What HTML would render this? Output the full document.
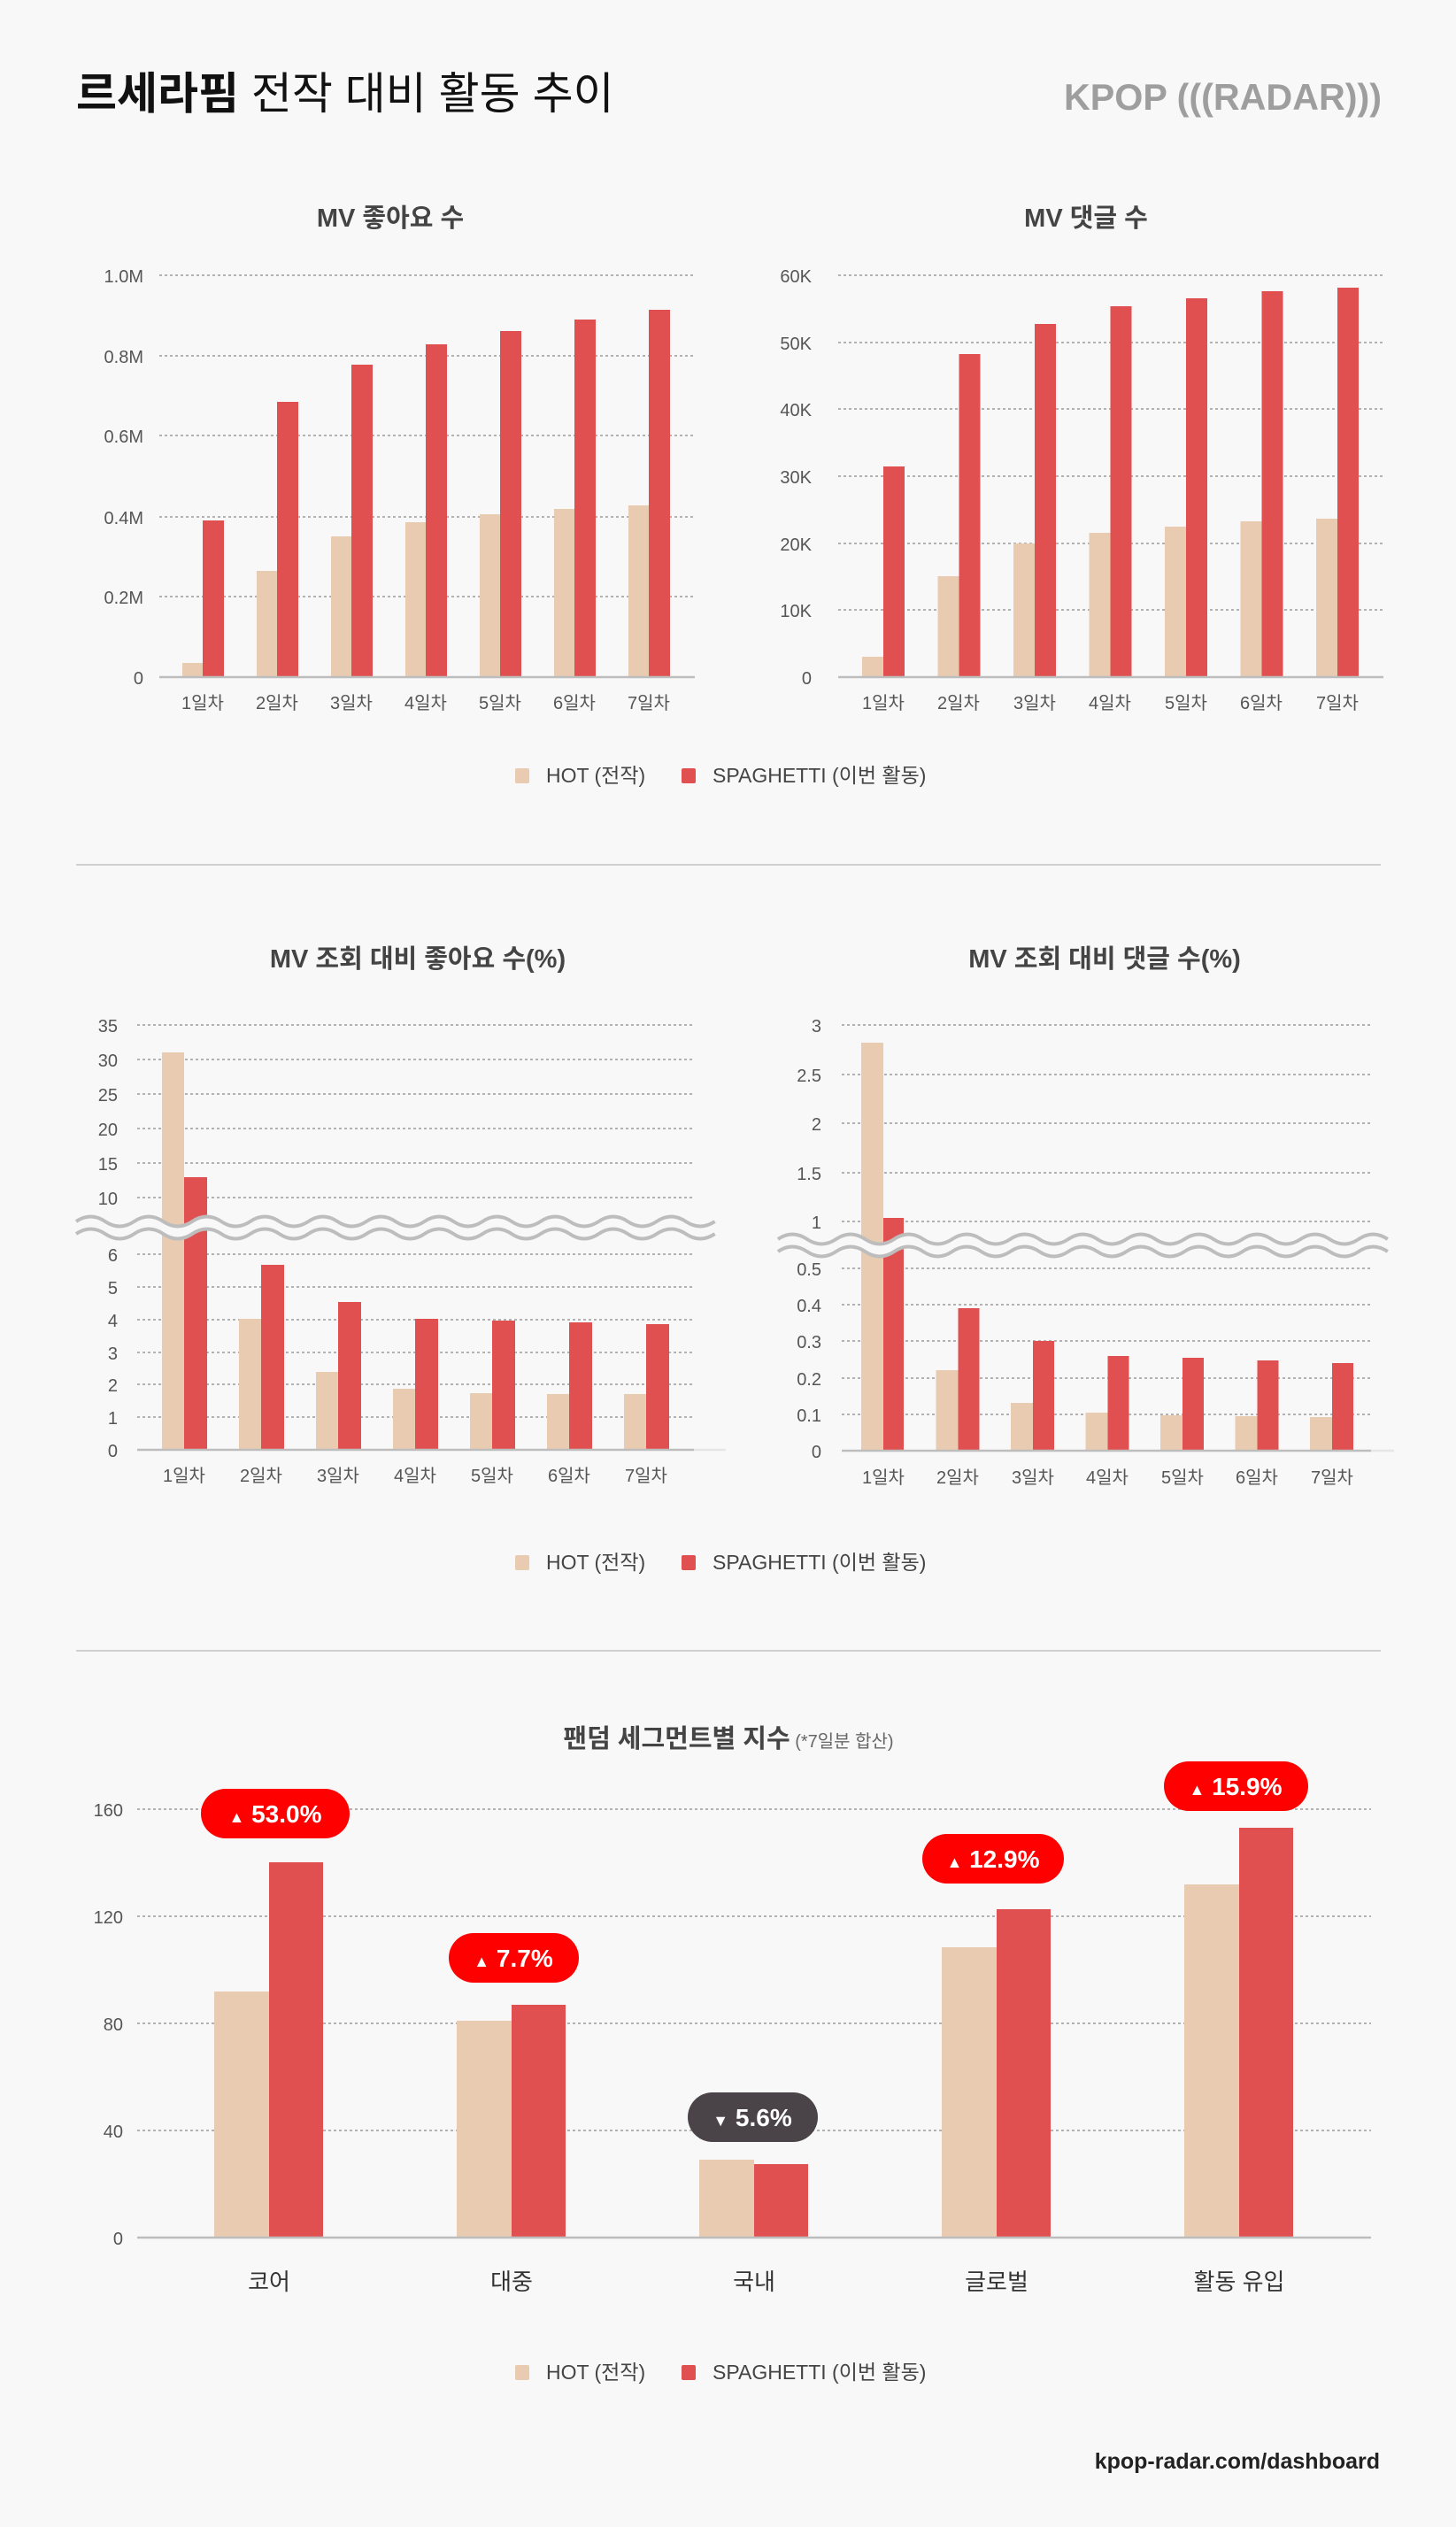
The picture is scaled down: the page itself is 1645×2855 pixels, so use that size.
<!DOCTYPE html>
<html><head><meta charset="utf-8"><style>
html,body{margin:0;padding:0;background:#f8f8f8;}
svg{display:block;font-family:"Liberation Sans","Noto Sans CJK KR",sans-serif;}
.t{font-size:20px;fill:#555;}
.tt{font-size:29px;font-weight:bold;fill:#444;}
.g{stroke:#9a9a9a;stroke-width:1.6;stroke-dasharray:3 3;}
.ax{stroke:#bdbdbd;stroke-width:2.5;}
.h{fill:#e8cbb0;}
.s{fill:#e15050;}
.lg{font-size:23px;fill:#444;}
.bd{font-size:28px;font-weight:bold;fill:#fff;}
</style></head><body>
<svg width="1645" height="2855" viewBox="0 0 1645 2855" xmlns="http://www.w3.org/2000/svg">
<rect width="1645" height="2855" fill="#f8f8f8"/>
<text x="86" y="123" font-size="50" fill="#111"><tspan font-weight="bold">르세라핌</tspan> 전작 대비 활동 추이</text>
<text x="1202" y="124" font-size="42" font-weight="bold" fill="#9e9e9e" textLength="359" lengthAdjust="spacingAndGlyphs">KPOP (((RADAR)))</text>

<!-- Chart 1 -->
<text x="441" y="256" text-anchor="middle" class="tt">MV 좋아요 수</text>
<g class="g"><line x1="180" y1="311" x2="785" y2="311"/><line x1="180" y1="402" x2="785" y2="402"/><line x1="180" y1="492" x2="785" y2="492"/><line x1="180" y1="584" x2="785" y2="584"/><line x1="180" y1="674" x2="785" y2="674"/></g>
<g class="t" text-anchor="end"><text x="162" y="319">1.0M</text><text x="162" y="410">0.8M</text><text x="162" y="500">0.6M</text><text x="162" y="592">0.4M</text><text x="162" y="682">0.2M</text><text x="162" y="773">0</text></g>
<g class="h"><rect x="206" y="749" width="23" height="16"/><rect x="290" y="645" width="23" height="120"/><rect x="374" y="606" width="23" height="159"/><rect x="458" y="590" width="23" height="175"/><rect x="542" y="581" width="23" height="184"/><rect x="626" y="575" width="23" height="190"/><rect x="710" y="571" width="23" height="194"/></g>
<g class="s"><rect x="229" y="588" width="24" height="177"/><rect x="313" y="454" width="24" height="311"/><rect x="397" y="412" width="24" height="353"/><rect x="481" y="389" width="24" height="376"/><rect x="565" y="374" width="24" height="391"/><rect x="649" y="361" width="24" height="404"/><rect x="733" y="350" width="24" height="415"/></g>
<line class="ax" x1="180" y1="765" x2="785" y2="765"/>
<g class="t" text-anchor="middle"><text x="229" y="801">1일차</text><text x="313" y="801">2일차</text><text x="397" y="801">3일차</text><text x="481" y="801">4일차</text><text x="565" y="801">5일차</text><text x="649" y="801">6일차</text><text x="733" y="801">7일차</text></g>

<!-- Chart 2 -->
<text x="1227" y="256" text-anchor="middle" class="tt">MV 댓글 수</text>
<g class="g"><line x1="947" y1="311" x2="1563" y2="311"/><line x1="947" y1="387" x2="1563" y2="387"/><line x1="947" y1="462" x2="1563" y2="462"/><line x1="947" y1="538" x2="1563" y2="538"/><line x1="947" y1="614" x2="1563" y2="614"/><line x1="947" y1="689" x2="1563" y2="689"/></g>
<g class="t" text-anchor="end"><text x="917" y="319">60K</text><text x="917" y="395">50K</text><text x="917" y="470">40K</text><text x="917" y="546">30K</text><text x="917" y="622">20K</text><text x="917" y="697">10K</text><text x="917" y="773">0</text></g>
<g class="h"><rect x="974" y="742" width="24" height="23"/><rect x="1059.5" y="651" width="24" height="114"/><rect x="1145" y="614" width="24" height="151"/><rect x="1230.5" y="602" width="24" height="163"/><rect x="1316" y="595" width="24" height="170"/><rect x="1401.5" y="589" width="24" height="176"/><rect x="1487" y="586" width="24" height="179"/></g>
<g class="s"><rect x="998" y="527" width="24" height="238"/><rect x="1083.5" y="400" width="24" height="365"/><rect x="1169" y="366" width="24" height="399"/><rect x="1254.5" y="346" width="24" height="419"/><rect x="1340" y="337" width="24" height="428"/><rect x="1425.5" y="329" width="24" height="436"/><rect x="1511" y="325" width="24" height="440"/></g>
<line class="ax" x1="947" y1="765" x2="1563" y2="765"/>
<g class="t" text-anchor="middle"><text x="998" y="801">1일차</text><text x="1083" y="801">2일차</text><text x="1169" y="801">3일차</text><text x="1254" y="801">4일차</text><text x="1340" y="801">5일차</text><text x="1425" y="801">6일차</text><text x="1511" y="801">7일차</text></g>

<!-- Legend 1 -->
<rect x="582" y="868" width="16" height="17" rx="2" class="h"/><text x="617" y="884" class="lg">HOT (전작)</text>
<rect x="770" y="868" width="16" height="17" rx="2" class="s"/><text x="805" y="884" class="lg">SPAGHETTI (이번 활동)</text>

<line x1="86" y1="977" x2="1560" y2="977" stroke="#d0d0d0" stroke-width="2"/>

<!-- Chart 3 -->
<text x="472" y="1093" text-anchor="middle" class="tt">MV 조회 대비 좋아요 수(%)</text>
<g class="g"><line x1="155" y1="1158" x2="784" y2="1158"/><line x1="155" y1="1197" x2="784" y2="1197"/><line x1="155" y1="1236" x2="784" y2="1236"/><line x1="155" y1="1275" x2="784" y2="1275"/><line x1="155" y1="1314" x2="784" y2="1314"/><line x1="155" y1="1353" x2="784" y2="1353"/>
<line x1="155" y1="1417" x2="784" y2="1417"/><line x1="155" y1="1454" x2="784" y2="1454"/><line x1="155" y1="1491" x2="784" y2="1491"/><line x1="155" y1="1528" x2="784" y2="1528"/><line x1="155" y1="1564" x2="784" y2="1564"/><line x1="155" y1="1601" x2="784" y2="1601"/></g>
<g class="t" text-anchor="end"><text x="133" y="1166">35</text><text x="133" y="1205">30</text><text x="133" y="1244">25</text><text x="133" y="1283">20</text><text x="133" y="1322">15</text><text x="133" y="1361">10</text><text x="133" y="1425">6</text><text x="133" y="1462">5</text><text x="133" y="1499">4</text><text x="133" y="1536">3</text><text x="133" y="1572">2</text><text x="133" y="1609">1</text><text x="133" y="1646">0</text></g>
<g class="h"><rect x="183" y="1189" width="25" height="449"/><rect x="270" y="1490" width="25" height="148"/><rect x="357" y="1550" width="25" height="88"/><rect x="444" y="1569" width="25" height="69"/><rect x="531" y="1574" width="25" height="64"/><rect x="618" y="1575" width="25" height="63"/><rect x="705" y="1575" width="25" height="63"/></g>
<g class="s"><rect x="208" y="1330" width="26" height="308"/><rect x="295" y="1429" width="26" height="209"/><rect x="382" y="1471" width="26" height="167"/><rect x="469" y="1490" width="26" height="148"/><rect x="556" y="1492" width="26" height="146"/><rect x="643" y="1494" width="26" height="144"/><rect x="730" y="1496" width="26" height="142"/></g>
<line class="ax" x1="155" y1="1638" x2="784" y2="1638"/><line x1="784" y1="1638" x2="820" y2="1638" stroke="#e6e6e6" stroke-width="2.5"/>
<g fill="none">
<path d="M86 1387 q16.4 -11 32.8 0 t32.8 0 t32.8 0 t32.8 0 t32.8 0 t32.8 0 t32.8 0 t32.8 0 t32.8 0 t32.8 0 t32.8 0 t32.8 0 t32.8 0 t32.8 0 t32.8 0 t32.8 0 t32.8 0 t32.8 0 t32.8 0 t32.8 0 t32.8 0 t32.8 0" stroke="#f8f8f8" stroke-width="14"/>
<path d="M86 1380 q16.4 -11 32.8 0 t32.8 0 t32.8 0 t32.8 0 t32.8 0 t32.8 0 t32.8 0 t32.8 0 t32.8 0 t32.8 0 t32.8 0 t32.8 0 t32.8 0 t32.8 0 t32.8 0 t32.8 0 t32.8 0 t32.8 0 t32.8 0 t32.8 0 t32.8 0 t32.8 0" stroke="#bdbdbd" stroke-width="4"/>
<path d="M86 1394 q16.4 -11 32.8 0 t32.8 0 t32.8 0 t32.8 0 t32.8 0 t32.8 0 t32.8 0 t32.8 0 t32.8 0 t32.8 0 t32.8 0 t32.8 0 t32.8 0 t32.8 0 t32.8 0 t32.8 0 t32.8 0 t32.8 0 t32.8 0 t32.8 0 t32.8 0 t32.8 0" stroke="#bdbdbd" stroke-width="4"/>
</g>
<g class="t" text-anchor="middle"><text x="208" y="1674">1일차</text><text x="295" y="1674">2일차</text><text x="382" y="1674">3일차</text><text x="469" y="1674">4일차</text><text x="556" y="1674">5일차</text><text x="643" y="1674">6일차</text><text x="730" y="1674">7일차</text></g>

<!-- Chart 4 -->
<text x="1248" y="1093" text-anchor="middle" class="tt">MV 조회 대비 댓글 수(%)</text>
<g class="g"><line x1="951" y1="1158" x2="1549" y2="1158"/><line x1="951" y1="1214" x2="1549" y2="1214"/><line x1="951" y1="1269" x2="1549" y2="1269"/><line x1="951" y1="1325" x2="1549" y2="1325"/><line x1="951" y1="1380" x2="1549" y2="1380"/>
<line x1="951" y1="1433" x2="1549" y2="1433"/><line x1="951" y1="1474" x2="1549" y2="1474"/><line x1="951" y1="1515" x2="1549" y2="1515"/><line x1="951" y1="1557" x2="1549" y2="1557"/><line x1="951" y1="1598" x2="1549" y2="1598"/></g>
<g class="t" text-anchor="end"><text x="928" y="1166">3</text><text x="928" y="1222">2.5</text><text x="928" y="1277">2</text><text x="928" y="1333">1.5</text><text x="928" y="1388">1</text><text x="928" y="1441">0.5</text><text x="928" y="1482">0.4</text><text x="928" y="1523">0.3</text><text x="928" y="1565">0.2</text><text x="928" y="1606">0.1</text><text x="928" y="1647">0</text></g>
<g class="h"><rect x="973" y="1178" width="25" height="461"/><rect x="1057.5" y="1548" width="25" height="91"/><rect x="1142" y="1585" width="25" height="54"/><rect x="1226.5" y="1596" width="25" height="43"/><rect x="1311" y="1599" width="25" height="40"/><rect x="1395.5" y="1600" width="25" height="39"/><rect x="1480" y="1601" width="25" height="38"/></g>
<g class="s"><rect x="998" y="1376" width="23" height="263"/><rect x="1082.5" y="1478" width="24" height="161"/><rect x="1167" y="1515" width="24" height="124"/><rect x="1251.5" y="1532" width="24" height="107"/><rect x="1336" y="1534" width="24" height="105"/><rect x="1420.5" y="1537" width="24" height="102"/><rect x="1505" y="1540" width="24" height="99"/></g>
<line class="ax" x1="951" y1="1639" x2="1549" y2="1639"/><line x1="1549" y1="1639" x2="1575" y2="1639" stroke="#e6e6e6" stroke-width="2.5"/>
<g fill="none">
<path d="M879 1407 q16.4 -11 32.8 0 t32.8 0 t32.8 0 t32.8 0 t32.8 0 t32.8 0 t32.8 0 t32.8 0 t32.8 0 t32.8 0 t32.8 0 t32.8 0 t32.8 0 t32.8 0 t32.8 0 t32.8 0 t32.8 0 t32.8 0 t32.8 0 t32.8 0 t32.8 0" stroke="#f8f8f8" stroke-width="14"/>
<path d="M879 1400 q16.4 -11 32.8 0 t32.8 0 t32.8 0 t32.8 0 t32.8 0 t32.8 0 t32.8 0 t32.8 0 t32.8 0 t32.8 0 t32.8 0 t32.8 0 t32.8 0 t32.8 0 t32.8 0 t32.8 0 t32.8 0 t32.8 0 t32.8 0 t32.8 0 t32.8 0" stroke="#bdbdbd" stroke-width="4"/>
<path d="M879 1414 q16.4 -11 32.8 0 t32.8 0 t32.8 0 t32.8 0 t32.8 0 t32.8 0 t32.8 0 t32.8 0 t32.8 0 t32.8 0 t32.8 0 t32.8 0 t32.8 0 t32.8 0 t32.8 0 t32.8 0 t32.8 0 t32.8 0 t32.8 0 t32.8 0 t32.8 0" stroke="#bdbdbd" stroke-width="4"/>
</g>
<g class="t" text-anchor="middle"><text x="998" y="1676">1일차</text><text x="1082" y="1676">2일차</text><text x="1167" y="1676">3일차</text><text x="1251" y="1676">4일차</text><text x="1336" y="1676">5일차</text><text x="1420" y="1676">6일차</text><text x="1505" y="1676">7일차</text></g>

<!-- Legend 2 -->
<rect x="582" y="1757" width="16" height="17" rx="2" class="h"/><text x="617" y="1773" class="lg">HOT (전작)</text>
<rect x="770" y="1757" width="16" height="17" rx="2" class="s"/><text x="805" y="1773" class="lg">SPAGHETTI (이번 활동)</text>

<line x1="86" y1="1865" x2="1560" y2="1865" stroke="#d0d0d0" stroke-width="2"/>

<!-- Chart 5 -->
<text x="823" y="1974" text-anchor="middle"><tspan class="tt" font-size="27">팬덤 세그먼트별 지수</tspan><tspan font-size="20" fill="#666"> (*7일분 합산)</tspan></text>
<g class="g"><line x1="155" y1="2044" x2="1549" y2="2044"/><line x1="155" y1="2165" x2="1549" y2="2165"/><line x1="155" y1="2286" x2="1549" y2="2286"/><line x1="155" y1="2407" x2="1549" y2="2407"/></g>
<g class="t" text-anchor="end"><text x="139" y="2052">160</text><text x="139" y="2173">120</text><text x="139" y="2294">80</text><text x="139" y="2415">40</text><text x="139" y="2536">0</text></g>
<g class="h"><rect x="242" y="2250" width="62" height="278"/><rect x="516" y="2283" width="62" height="245"/><rect x="790" y="2440" width="62" height="88"/><rect x="1064" y="2200" width="62" height="328"/><rect x="1338" y="2129" width="62" height="399"/></g>
<g class="s"><rect x="304" y="2104" width="61" height="424"/><rect x="578" y="2265" width="61" height="263"/><rect x="852" y="2445" width="61" height="83"/><rect x="1126" y="2157" width="61" height="371"/><rect x="1400" y="2065" width="61" height="463"/></g>
<line class="ax" x1="155" y1="2528" x2="1549" y2="2528"/>
<g font-size="26" fill="#333" text-anchor="middle"><text x="304" y="2587">코어</text><text x="578" y="2587">대중</text><text x="852" y="2587">국내</text><text x="1126" y="2587">글로벌</text><text x="1400" y="2587">활동 유입</text></g>
<!-- badges -->
<rect x="227" y="2021" width="168" height="56" rx="28" fill="#ff0000"/><text x="311" y="2059" text-anchor="middle" class="bd"><tspan font-size="18">▲</tspan> 53.0%</text>
<rect x="507" y="2184" width="147" height="56" rx="28" fill="#ff0000"/><text x="580" y="2222" text-anchor="middle" class="bd"><tspan font-size="18">▲</tspan> 7.7%</text>
<rect x="777" y="2364" width="147" height="56" rx="28" fill="#4a4448"/><text x="850" y="2402" text-anchor="middle" class="bd"><tspan font-size="18">▼</tspan> 5.6%</text>
<rect x="1042" y="2072" width="160" height="56" rx="28" fill="#ff0000"/><text x="1122" y="2110" text-anchor="middle" class="bd"><tspan font-size="18">▲</tspan> 12.9%</text>
<rect x="1315" y="1990" width="163" height="56" rx="28" fill="#ff0000"/><text x="1396" y="2028" text-anchor="middle" class="bd"><tspan font-size="18">▲</tspan> 15.9%</text>

<!-- Legend 3 -->
<rect x="582" y="2672" width="16" height="17" rx="2" class="h"/><text x="617" y="2688" class="lg">HOT (전작)</text>
<rect x="770" y="2672" width="16" height="17" rx="2" class="s"/><text x="805" y="2688" class="lg">SPAGHETTI (이번 활동)</text>

<text x="1559" y="2789" text-anchor="end" font-size="25" font-weight="bold" fill="#222">kpop-radar.com/dashboard</text>
</svg>
</body></html>
